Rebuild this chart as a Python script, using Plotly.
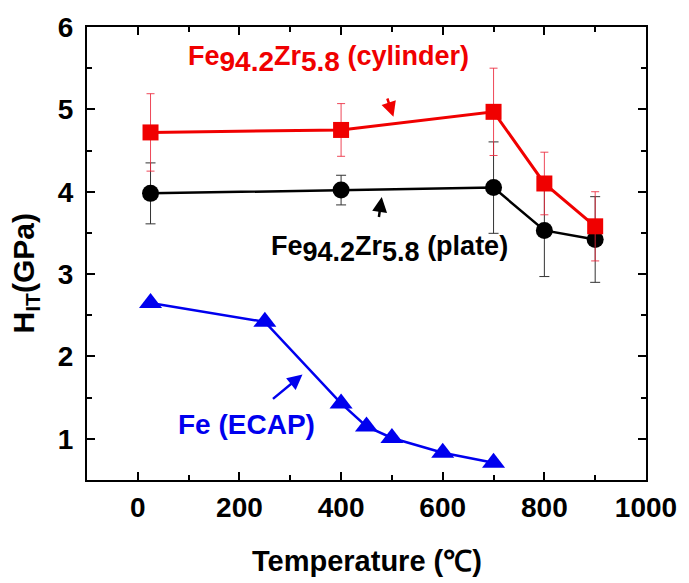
import plotly.graph_objects as go

# ---- data ----
temp_alloy = [25, 400, 700, 800, 900]
hit_cylinder = [4.72, 4.75, 4.97, 4.10, 3.58]
err_cylinder = [0.47, 0.32, 0.53, 0.38, 0.42]
hit_plate = [3.98, 4.02, 4.05, 3.53, 3.42]
err_plate = [0.37, 0.18, 0.555, 0.56, 0.52]

temp_fe = [25, 250, 400, 450, 500, 600, 700]
hit_fe = [2.65, 2.42, 1.43, 1.15, 1.01, 0.83, 0.71]

x_ticks = [0, 200, 400, 600, 800, 1000]
y_ticks = [1, 2, 3, 4, 5, 6]

RED = "#f00000"
BLUE = "#0000ee"
BLACK = "#000000"
FONT = "Arial, 'Liberation Sans', sans-serif"

fig = go.Figure()

fig.add_trace(go.Scatter(
    x=temp_alloy, y=hit_plate, mode="lines+markers",
    line=dict(color=BLACK, width=2.5),
    marker=dict(symbol="circle", size=17, color=BLACK),
    error_y=dict(type="data", array=err_plate, visible=True,
                 color="#333333", thickness=1, width=5),
    showlegend=False))

fig.add_trace(go.Scatter(
    x=temp_alloy, y=hit_cylinder, mode="lines+markers",
    line=dict(color=RED, width=3),
    marker=dict(symbol="square", size=16, color=RED),
    error_y=dict(type="data", array=err_cylinder, visible=True,
                 color="rgba(235,40,60,0.85)", thickness=1, width=4),
    showlegend=False))

fig.add_trace(go.Scatter(
    x=temp_fe, y=hit_fe, mode="lines+markers",
    line=dict(color=BLUE, width=2.5),
    marker=dict(symbol="triangle-up", size=20, color=BLUE),
    showlegend=False))


def sub(s, px):
    return '<sub><span style="font-size:%dpx">%s</span></sub>' % (px, s)


ann = []
# text labels
ann.append(dict(x=95, y=5.61, xref="x", yref="y", xanchor="left", yanchor="middle",
                showarrow=False,
                text="Fe" + sub("94.2", 28) + "Zr" + sub("5.8", 28) + " (cylinder)",
                font=dict(family=FONT, size=27, color=RED, weight="bold")))
ann.append(dict(x=259, y=3.31, xref="x", yref="y", xanchor="left", yanchor="middle",
                showarrow=False,
                text="Fe" + sub("94.2", 27) + "Zr" + sub("5.8", 27) + " (plate)",
                font=dict(family=FONT, size=27, color=BLACK, weight="bold")))
ann.append(dict(x=75, y=1.17, xref="x", yref="y", xanchor="left", yanchor="middle",
                showarrow=False, text="Fe (ECAP)",
                font=dict(family=FONT, size=28, color=BLUE, weight="bold")))
# arrows
ann.append(dict(x=503, y=4.91, ax=490, ay=5.15, xref="x", yref="y", axref="x", ayref="y",
                text="", showarrow=True, arrowhead=2, arrowsize=1.2, arrowwidth=2.5, arrowcolor=RED))
ann.append(dict(x=480, y=3.935, ax=474, ay=3.675, xref="x", yref="y", axref="x", ayref="y",
                text="", showarrow=True, arrowhead=2, arrowsize=1.2, arrowwidth=2.5, arrowcolor=BLACK))
ann.append(dict(x=324, y=1.78, ax=263, ay=1.47, xref="x", yref="y", axref="x", ayref="y",
                text="", showarrow=True, arrowhead=2, arrowsize=1.2, arrowwidth=2.5, arrowcolor=BLUE))
# axis titles
ann.append(dict(x=-0.11, y=0.455, xref="paper", yref="paper", xanchor="center", yanchor="middle",
                showarrow=False, textangle=-90, text="H<sub>IT</sub>(GPa)",
                font=dict(family=FONT, size=30, color=BLACK, weight="bold")))
ann.append(dict(x=0.5, y=-0.178, xref="paper", yref="paper", xanchor="center", yanchor="middle",
                showarrow=False, text="Temperature (℃)",
                font=dict(family=FONT, size=29, color=BLACK, weight="bold")))

axis_common = dict(showgrid=False, zeroline=False, showline=True, linecolor=BLACK, linewidth=2,
                   mirror="ticks", ticks="inside", ticklen=8, tickwidth=2, tickcolor=BLACK,
                   tickfont=dict(family=FONT, size=28, color=BLACK, weight="bold"))

fig.update_xaxes(range=[-100, 1000], tickvals=x_ticks, ticktext=[str(v) for v in x_ticks],
                 minor=dict(dtick=100, tick0=0, ticks="inside", ticklen=5, tickwidth=2,
                            tickcolor=BLACK, showgrid=False),
                 ticklabelstandoff=1, **axis_common)
fig.update_yaxes(range=[0.5, 6.0], tickvals=y_ticks, ticktext=[str(v) for v in y_ticks],
                 minor=dict(dtick=0.5, tick0=0, ticks="inside", ticklen=5, tickwidth=2,
                            tickcolor=BLACK, showgrid=False),
                 ticklabelstandoff=6, **axis_common)

fig.update_layout(width=689, height=583, margin=dict(l=87, r=37, t=21, b=103),
                  paper_bgcolor="white", plot_bgcolor="white", annotations=ann)

fig.write_html("out.html")
